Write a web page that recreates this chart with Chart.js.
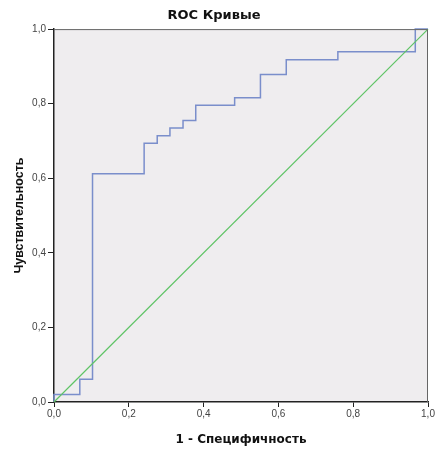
<!DOCTYPE html>
<html>
<head>
<meta charset="utf-8">
<script src="https://cdn.jsdelivr.net/npm/chart.js@4"></script>
<style>
  html, body { margin: 0; padding: 0; background: #fff; }
  #wrap { width: 436px; height: 451px; }
</style>
</head>
<body>
<div id="wrap"><canvas id="roc"></canvas></div>
<script>
// ROC curve points (1 - specificity, sensitivity)
const fpr = [0, 0, 0.069, 0.069, 0.103, 0.103, 0.241, 0.241, 0.276, 0.276, 0.310, 0.310,
             0.345, 0.345, 0.379, 0.379, 0.483, 0.483, 0.552, 0.552, 0.621, 0.621,
             0.759, 0.759, 0.966, 0.966, 1];
const tpr = [0, 0.020, 0.020, 0.061, 0.061, 0.612, 0.612, 0.694, 0.694, 0.714, 0.714, 0.735,
             0.735, 0.755, 0.755, 0.796, 0.796, 0.816, 0.816, 0.878, 0.878, 0.918,
             0.918, 0.939, 0.939, 1, 1];
// reference line
const refX = [0, 1];
const refY = [0, 1];

const fmt = v => v.toFixed(1).replace('.', ',');

// plot background + frame
const plotBg = {
    id: 'plotBg',
    beforeDraw(chart) {
        const { ctx, chartArea: a } = chart;
        ctx.save();
        ctx.fillStyle = '#efedef';
        ctx.fillRect(a.left, a.top, a.right - a.left, a.bottom - a.top);
        ctx.restore();
    },
    afterDraw(chart) {
        const { ctx, chartArea: a } = chart;
        ctx.save();
        ctx.strokeStyle = '#666';
        ctx.lineWidth = 1;
        ctx.beginPath();
        ctx.moveTo(a.left, a.top + 0.5);
        ctx.lineTo(a.right - 0.5, a.top + 0.5);
        ctx.lineTo(a.right - 0.5, a.bottom);
        ctx.stroke();
        ctx.restore();
    }
};

new Chart(document.getElementById('roc'), {
    type: 'line',
    data: {
        datasets: [{
            label: 'Опорная линия',
            data: refX.map((x, i) => ({ x, y: refY[i] })),
            borderColor: '#5fc466',
            borderWidth: 1.2,
            pointRadius: 0,
            clip: 3
        }, {
            label: 'ROC',
            data: fpr.map((x, i) => ({ x, y: tpr[i] })),
            borderColor: '#7a8ecb',
            borderWidth: 1.5,
            pointRadius: 0,
            tension: 0,
            clip: 3
        }]
    },
    options: {
        animation: false,
        responsive: true,
        maintainAspectRatio: false,
        layout: { padding: { top: 0, right: 8, left: 0, bottom: 0 } },
        plugins: {
            legend: { display: false },
            tooltip: { enabled: false },
            title: {
                display: true,
                text: 'ROC Кривые',
                color: '#111',
                font: { family: 'DejaVu Sans', size: 13, weight: 'bold' },
                padding: { top: 8, bottom: 5.5 }
            }
        },
        scales: {
            x: {
                type: 'linear',
                min: 0, max: 1,
                ticks: {
                    stepSize: 0.2,
                    callback: v => fmt(v),
                    color: '#444',
                    font: { family: 'Liberation Sans', size: 10 },
                    padding: 1,
                    maxRotation: 0
                },
                grid: { drawOnChartArea: false, drawTicks: true, tickLength: 5, color: '#222' },
                border: { color: '#222', width: 1.5 },
                title: {
                    display: true,
                    text: '1 - Специфичность',
                    color: '#111',
                    font: { family: 'DejaVu Sans', size: 12, weight: 'bold' },
                    padding: { top: 9 }
                },
                afterFit: s => { s.height = 49; }
            },
            y: {
                type: 'linear',
                min: 0, max: 1,
                ticks: {
                    stepSize: 0.2,
                    callback: v => fmt(v),
                    color: '#444',
                    font: { family: 'Liberation Sans', size: 10 },
                    padding: 2
                },
                grid: { drawOnChartArea: false, drawTicks: true, tickLength: 6, color: '#222' },
                border: { color: '#222', width: 1.5 },
                title: {
                    display: true,
                    text: 'Чувствительность',
                    color: '#111',
                    font: { family: 'Liberation Sans', size: 12.5, weight: 'bold' },
                    padding: { top: 12, bottom: 0 }
                },
                afterFit: s => { s.width = 54; }
            }
        }
    },
    plugins: [plotBg]
});
</script>
</body>
</html>
